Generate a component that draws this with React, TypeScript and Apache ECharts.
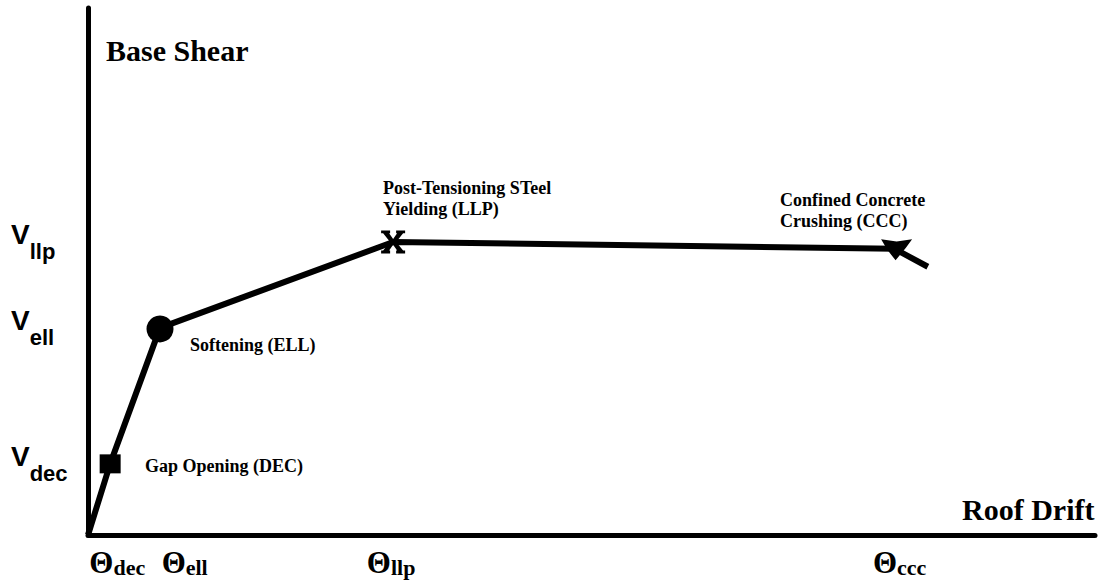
import React, { useEffect, useRef } from "react";
import * as echarts from "echarts";

// Characteristic points of the curve (arbitrary units)
const pointNames = ["origin", "DEC", "ELL", "LLP", "CCC", "end"];
const driftValues = [0, 2.2, 7.15, 30.3, 80.1, 83.4];
const shearValues = [0, 13.5, 39.3, 55.6, 54.3, 50.9];

// Marker points: index into the curve arrays and symbol kind
const markerIndex = [1, 2, 3, 4];
const markerKind = ["square", "circle", "x", "bowtie"];

// Tick labels
const yTickValues = [13.5, 39.3, 55.6];
const yTickSubs = ["dec", "ell", "llp"];
const xTickValues = [2.9, 9.6, 30.1, 80.6];
const xTickSubs = ["dec", "ell", "llp", "ccc"];

const serif = "'Liberation Serif', 'Times New Roman', serif";
const sans = "'Liberation Sans', Arial, sans-serif";

const X_PATH =
  "path://M0,0 H9 V3 H8 L12,9 L16,3 H15 V0 H24 V3 H22 L15,12 L22,21 H24 V24 H15 V21 H16 L12,15 L8,21 H9 V24 H0 V21 H2 L9,12 L2,3 H0 Z";
const BOWTIE_PATH =
  "path://M0,0 L15,2 L30,0 L24,8 L14,20 L6,10 Z";

function nearestIndex(arr: number[], v: number) {
  let best = 0;
  for (let i = 1; i < arr.length; i++) {
    if (Math.abs(arr[i] - v) < Math.abs(arr[best] - v)) best = i;
  }
  return best;
}

export default function App() {
  const ref = useRef<HTMLDivElement>(null);
  useEffect(() => {
    if (!ref.current) return;
    const chart = echarts.init(ref.current, null, { renderer: "svg" });
    const markerData = markerIndex.map((idx, k) => {
      const kind = markerKind[k];
      let symbol = "rect";
      let symbolSize: any = [21, 19];
      let symbolOffset: any = [0, 0];
      if (kind === "circle") {
        symbol = "circle";
        symbolSize = 27;
        symbolOffset = [0, 1];
      } else if (kind === "x") {
        symbol = X_PATH;
        symbolSize = [24, 23];
      } else if (kind === "bowtie") {
        symbol = BOWTIE_PATH;
        symbolSize = [31, 21];
        symbolOffset = [2, 1];
      }
      return {
        name: pointNames[idx],
        value: [driftValues[idx], shearValues[idx]],
        symbol,
        symbolSize,
        symbolOffset,
      };
    });
    chart.setOption({
      animation: false,
      backgroundColor: "#ffffff",
      grid: { left: 88, right: 4, top: 8, bottom: 53, containLabel: false },
      xAxis: {
        type: "value",
        min: 0,
        max: 100,
        splitLine: { show: false },
        axisTick: { show: false },
        axisLine: { show: true, lineStyle: { color: "#000", width: 5 } },
        axisLabel: {
          customValues: xTickValues,
          margin: 11,
          formatter: (v: number) => {
            const i = nearestIndex(xTickValues, v);
            return "{t|\u0398}{s|" + xTickSubs[i] + "}";
          },
          rich: {
            t: {
              fontFamily: serif,
              fontWeight: "bold",
              fontSize: 31,
              lineHeight: 32,
              color: "#000",
              verticalAlign: "bottom",
            },
            s: {
              fontFamily: serif,
              fontWeight: "bold",
              fontSize: 22,
              lineHeight: 22,
              color: "#000",
              verticalAlign: "bottom",
            },
          },
        },
      },
      yAxis: {
        type: "value",
        min: 0,
        max: 100,
        splitLine: { show: false },
        axisTick: { show: false },
        axisLine: { show: true, lineStyle: { color: "#000", width: 5 } },
        axisLabel: {
          customValues: yTickValues,
          margin: 77,
          align: "left",
          formatter: (v: number) => {
            const i = nearestIndex(yTickValues, v);
            return "{t|V}{s|" + yTickSubs[i] + "}";
          },
          rich: {
            t: {
              fontFamily: sans,
              fontWeight: "bold",
              fontSize: 28,
              lineHeight: 28,
              color: "#000",
              verticalAlign: "top",
            },
            s: {
              fontFamily: sans,
              fontWeight: "bold",
              fontSize: 22,
              lineHeight: 42,
              color: "#000",
              verticalAlign: "bottom",
            },
          },
        },
      },
      series: [
        {
          type: "line",
          data: driftValues.map((x, i) => [x, shearValues[i]]),
          symbol: "none",
          lineStyle: { color: "#000", width: 6 },
          z: 2,
        },
        {
          type: "scatter",
          data: markerData,
          itemStyle: { color: "#000", opacity: 1 },
          z: 3,
        },
      ],
      graphic: [
        {
          type: "text",
          left: 106,
          top: 35,
          style: { text: "Base Shear", font: `bold 30px ${serif}`, fill: "#000" },
        },
        {
          type: "text",
          left: 962,
          top: 494,
          style: { text: "Roof Drift", font: `bold 30px ${serif}`, fill: "#000" },
        },
        {
          type: "text",
          left: 383,
          top: 177,
          style: {
            text: "Post-Tensioning STeel\nYielding (LLP)",
            font: `bold 18px ${serif}`,
            lineHeight: 21,
            fill: "#000",
          },
        },
        {
          type: "text",
          left: 780,
          top: 189,
          style: {
            text: "Confined Concrete\nCrushing (CCC)",
            font: `bold 18px ${serif}`,
            lineHeight: 21,
            fill: "#000",
          },
        },
        {
          type: "text",
          left: 190,
          top: 336,
          style: { text: "Softening (ELL)", font: `bold 18px ${serif}`, fill: "#000" },
        },
        {
          type: "text",
          left: 145,
          top: 457,
          style: { text: "Gap Opening (DEC)", font: `bold 18px ${serif}`, fill: "#000" },
        },
      ],
    });
    return () => chart.dispose();
  }, []);
  return (
    <div
      ref={ref}
      style={{ position: "fixed", left: 0, top: 0, width: 1099, height: 588, background: "#fff" }}
    />
  );
}
